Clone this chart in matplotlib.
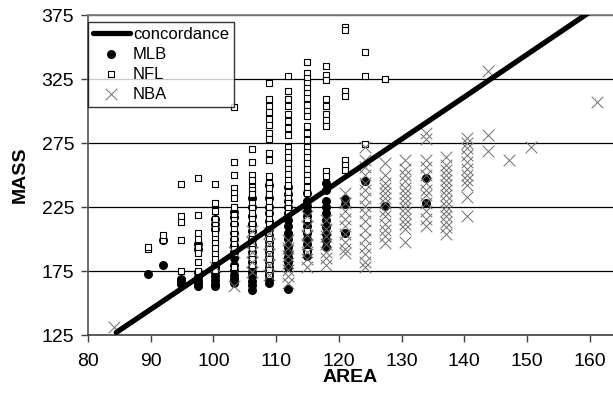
import matplotlib
matplotlib.use("Agg")
import matplotlib.pyplot as plt

plt.rcParams["font.family"] = ["Liberation Sans", "DejaVu Sans"]

# mass values per area column
mlb_cols = [
    (89.5, [173]),
    (92.0, [180, 199]),
    (94.8, [169, 167, 165]),
    (97.6, [196, 192, 174, 170, 167, 165, 163]),
    (100.3, [216, 212, 208, 180, 177, 174, 171, 168, 165, 163]),
    (103.3, [221, 217, 212, 205, 200, 195, 190, 185, 180, 176, 172, 169, 166]),
    (106.1, [232, 225, 218, 212, 206, 200, 195, 190, 186, 182, 178, 174, 171, 167, 164, 160]),
    (108.9, [242, 232, 225, 220, 214, 208, 203, 198, 194, 190, 186, 182, 178, 175, 172, 169, 166]),
    (111.9, [241, 235, 230, 225, 220, 215, 210, 205, 200, 194, 190, 186, 182, 178, 161]),
    (114.9, [236, 230, 226, 222, 218, 214, 210, 205, 200, 196, 191, 187]),
    (118.0, [244, 238, 230, 225, 220, 215, 209, 204, 199, 194]),
    (121.0, [231, 227, 205]),
    (124.1, [245]),
    (127.3, [226]),
    (133.9, [248, 228]),
]

nfl_cols = [
    (89.5, [192, 194]),
    (92.0, [199, 203]),
    (94.8, [243, 218, 213, 199, 175]),
    (97.6, [248, 219, 205, 200, 194, 189, 182, 175]),
    (100.3, [243, 228, 222, 216, 211, 208, 204, 200, 197, 193, 188, 184, 176]),
    (103.3, [303, 260, 250, 240, 236, 232, 225, 219, 215, 212, 208, 204, 200, 196, 192, 189, 178]),
    (106.1, [270, 260, 250, 246, 241, 238, 235, 228, 224, 220, 216, 212, 208, 204, 200, 196, 192, 188, 184, 180]),
    (108.9, [322, 309, 304, 299, 294, 289, 283, 278, 267, 262, 249, 244, 240, 235, 230, 225,
             220, 216, 212, 208, 204, 200, 196, 192, 188, 184, 180, 176, 172]),
    (111.9, [327, 316, 309, 304, 298, 292, 287, 281, 272, 268, 264, 259, 255, 251, 246, 242,
             237, 232, 228, 224, 220]),
    (114.9, [338, 330, 326, 322, 318, 314, 310, 305, 300, 296, 288, 283, 277, 272, 268, 264,
             259, 255, 250, 246, 241, 236, 216, 206, 191]),
    (118.0, [335, 328, 324, 309, 304, 298, 293, 288, 253, 249]),
    (121.0, [366, 363, 316, 312, 262, 258, 254]),
    (124.1, [346, 327, 274]),
    (127.3, [325]),
]

nba_cols = [
    (84.2, [131]),
    (100.3, [178]),
    (103.3, [163, 190]),
    (106.1, [174, 182, 190, 198, 206]),
    (108.9, [172, 180, 188, 196, 205]),
    (111.9, [199, 193, 187, 181, 176, 171, 166]),
    (114.9, [218, 210, 203, 196, 190, 184, 178]),
    (118.0, [215, 208, 202, 196, 190, 185, 180]),
    (121.0, [236, 228, 222, 216, 210, 204, 198, 192, 189]),
    (124.1, [272, 262, 256, 250, 244, 238, 232, 226, 220, 214, 207, 200, 194, 188, 182, 178]),
    (127.3, [259, 250, 244, 240, 236, 232, 228, 222, 218, 212, 207, 202, 197]),
    (130.6, [262, 255, 250, 245, 240, 236, 232, 228, 224, 220, 216, 212, 208, 198]),
    (133.9, [283, 278, 262, 256, 250, 244, 238, 234, 228, 222, 216, 210]),
    (137.0, [264, 258, 254, 250, 246, 242, 238, 234, 230, 226, 222, 218, 213, 209, 204]),
    (140.5, [279, 275, 271, 266, 260, 255, 250, 246, 242, 233, 218]),
    (143.7, [331, 281, 269]),
    (147.1, [262]),
    (150.6, [272]),
    (161.1, [307]),
]

conc_area = [84.5, 100, 120, 140, 162]
conc_mass = [127, 178, 245, 311, 384]

x_ticks = [80, 90, 100, 110, 120, 130, 140, 150, 160]
y_ticks = [125, 175, 225, 275, 325, 375]


def flatten(cols):
    xs, ys = [], []
    for a, masses in cols:
        xs += [a] * len(masses)
        ys += masses
    return xs, ys


fig = plt.figure(figsize=(6.13, 4.0), dpi=100)
ax = fig.add_axes([0.1436, 0.1625, 0.8564, 0.8])

mx, my = flatten(mlb_cols)
fx, fy = flatten(nfl_cols)
bx, by = flatten(nba_cols)

ax.plot(conc_area, conc_mass, color="black", lw=3.8, solid_capstyle="round",
        label="concordance", zorder=6)
ax.scatter(mx, my, s=42, marker="o", color="black", linewidths=0, label="MLB", zorder=3)
ax.scatter(fx, fy, s=20, marker="s", facecolor="white", edgecolor="black",
           linewidths=0.8, label="NFL", zorder=4)
ax.scatter(bx, by, s=70, marker="x", color="#6e6e6e", linewidths=0.7,
           label="NBA", zorder=5)

ax.set_xlim(80, 163.7)
ax.set_ylim(125, 375)
ax.set_xticks(x_ticks)
ax.set_yticks(y_ticks)
ax.tick_params(labelsize=14, length=5, width=1, color="#404040", direction="out")
ax.tick_params(axis="x", pad=8)
ax.tick_params(axis="y", pad=5)
ax.set_xlabel("AREA", fontsize=14, fontweight="bold", labelpad=-1)
ax.set_ylabel("MASS", fontsize=14, fontweight="bold", labelpad=9)

ax.yaxis.grid(True, color="black", lw=0.9)
ax.set_axisbelow(True)
ax.spines["right"].set_visible(False)
ax.spines["top"].set_color("#808080")
ax.spines["top"].set_linewidth(1.3)
ax.spines["left"].set_color("#606060")
ax.spines["left"].set_linewidth(1.3)
ax.spines["bottom"].set_color("#404040")
ax.spines["bottom"].set_linewidth(1.2)

leg = ax.legend(loc="upper left", bbox_to_anchor=(0.0, 0.979), borderaxespad=0,
                fontsize=12, frameon=True, fancybox=False, edgecolor="black",
                handlelength=2.2, handletextpad=0.2, labelspacing=0.3,
                borderpad=0.3, scatterpoints=1)
leg.get_frame().set_linewidth(1.0)
leg.set_zorder(10)

fig.savefig("out.png", dpi=100)
